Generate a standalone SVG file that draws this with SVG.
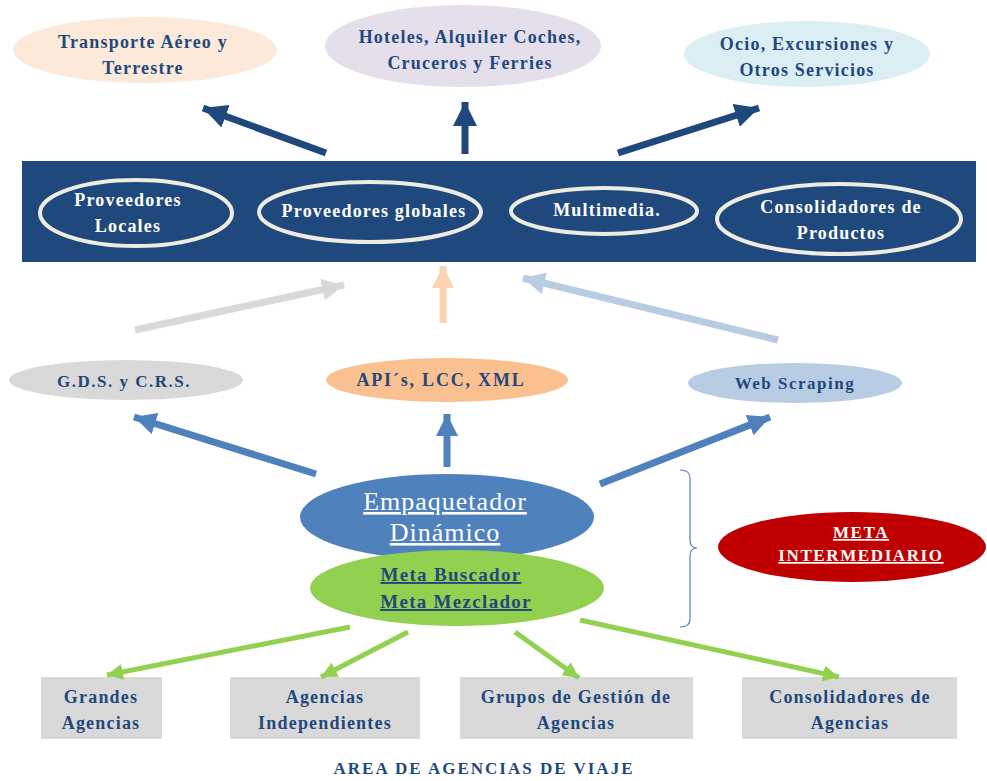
<svg xmlns="http://www.w3.org/2000/svg" width="987" height="781" viewBox="0 0 987 781">
  <style>
    text { font-family: "Liberation Serif", "Times New Roman", Tinos, "DejaVu Serif", serif; text-anchor: middle; }
    .dk { fill: #1f497d; font-weight: bold; font-size: 18px; letter-spacing: 1.2px; }
    .wh { fill: #ffffff; font-size: 18px; font-weight: bold; letter-spacing: 1.2px; }
    .inner { fill: none; stroke: #eeece1; stroke-width: 4; }
    .box { fill: #d9d9d9; }
    .ul { text-decoration: underline; }
  </style>
  <defs>
    <marker id="hDark" viewBox="0 0 24 24" refX="24" refY="12" markerWidth="24" markerHeight="24" markerUnits="userSpaceOnUse" orient="auto">
      <path d="M0,0 L24,12 L0,24 Z" fill="#1f497d"/>
    </marker>
    <marker id="hGrey" viewBox="0 0 22 22" refX="22" refY="11" markerWidth="22" markerHeight="22" markerUnits="userSpaceOnUse" orient="auto">
      <path d="M0,0 L22,11 L0,22 Z" fill="#d9d9d9"/>
    </marker>
    <marker id="hPeach" viewBox="0 0 22 22" refX="22" refY="11" markerWidth="22" markerHeight="22" markerUnits="userSpaceOnUse" orient="auto">
      <path d="M0,0 L22,11 L0,22 Z" fill="#fbd4b4"/>
    </marker>
    <marker id="hSky" viewBox="0 0 22 22" refX="22" refY="11" markerWidth="22" markerHeight="22" markerUnits="userSpaceOnUse" orient="auto">
      <path d="M0,0 L22,11 L0,22 Z" fill="#b8cce4"/>
    </marker>
    <marker id="hBlue" viewBox="0 0 22 22" refX="22" refY="11" markerWidth="22" markerHeight="22" markerUnits="userSpaceOnUse" orient="auto">
      <path d="M0,0 L22,11 L0,22 Z" fill="#4f81bd"/>
    </marker>
    <marker id="hGreen" viewBox="0 0 16 16" refX="16" refY="8" markerWidth="16" markerHeight="16" markerUnits="userSpaceOnUse" orient="auto">
      <path d="M0,0 L16,8 L0,16 Z" fill="#92d050"/>
    </marker>
  </defs>

  <rect width="987" height="781" fill="#ffffff"/>

  <!-- service categories -->
  <g id="transporte">
    <ellipse cx="145" cy="50" rx="132" ry="33" fill="#fde9d9"/>
    <text class="dk" x="143" y="48">Transporte Aéreo y</text>
    <text class="dk" x="143" y="74">Terrestre</text>
  </g>
  <g id="hoteles">
    <ellipse cx="463" cy="46" rx="138" ry="41" fill="#e5dfec"/>
    <text class="dk" x="470" y="43">Hoteles, Alquiler  Coches,</text>
    <text class="dk" x="470" y="69">Cruceros y Ferries</text>
  </g>
  <g id="ocio">
    <ellipse cx="807" cy="54" rx="123" ry="33" fill="#dbeef3"/>
    <text class="dk" x="807" y="50">Ocio, Excursiones y</text>
    <text class="dk" x="807" y="76">Otros Servicios</text>
  </g>

  <!-- providers band -->
  <g id="proveedores">
    <rect x="22" y="161" width="954" height="101" fill="#1f497d"/>
    <ellipse class="inner" cx="136" cy="213" rx="96" ry="33"/>
    <text class="wh" x="128" y="206">Proveedores</text>
    <text class="wh" x="128" y="232">Locales</text>
    <ellipse class="inner" cx="370" cy="212" rx="111" ry="30"/>
    <text class="wh" x="374" y="217">Proveedores globales</text>
    <ellipse class="inner" cx="604" cy="211" rx="93" ry="23"/>
    <text class="wh" x="607" y="216">Multimedia.</text>
    <ellipse class="inner" cx="839" cy="219" rx="122" ry="35"/>
    <text class="wh" x="841" y="213">Consolidadores de</text>
    <text class="wh" x="841" y="239">Productos</text>
  </g>

  <!-- access channels -->
  <g id="gds">
    <ellipse cx="126" cy="380" rx="117" ry="20" fill="#d9d9d9"/>
    <text class="dk" x="124" y="387" style="font-size:17px;letter-spacing:1.5px">G.D.S. y C.R.S.</text>
  </g>
  <g id="api">
    <ellipse cx="447" cy="380" rx="121" ry="22" fill="#fac090"/>
    <text class="dk" x="441" y="386" style="font-size:18px;letter-spacing:1.8px">API´s, LCC,  XML</text>
  </g>
  <g id="scraping">
    <ellipse cx="795" cy="383" rx="107" ry="20" fill="#b8cce4"/>
    <text class="dk" x="795" y="389" style="font-size:17px;letter-spacing:1.5px">Web Scraping</text>
  </g>

  <!-- intermediaries -->
  <g id="empaquetador">
    <ellipse cx="447" cy="517" rx="147" ry="43" fill="#4f81bd"/>
    <text class="ul" x="445" y="510" fill="#ffffff" style="font-size:26px;letter-spacing:1px">Empaquetador</text>
    <text class="ul" x="445" y="541" fill="#ffffff" style="font-size:26px;letter-spacing:1px">Dinámico</text>
  </g>
  <g id="metabuscador">
    <ellipse cx="457" cy="588" rx="147" ry="38" fill="#92d050"/>
    <text class="ul" x="451" y="581" fill="#1f497d" style="font-size:19px;font-weight:bold;letter-spacing:1.3px">Meta Buscador</text>
    <text class="ul" x="456" y="608" fill="#1f497d" style="font-size:19px;font-weight:bold;letter-spacing:1.3px">Meta Mezclador</text>
  </g>
  <g id="meta-intermediario">
    <ellipse cx="852" cy="547" rx="134" ry="35" fill="#c00000"/>
    <text class="ul" x="861" y="538" fill="#ffffff" style="font-size:17px;font-weight:bold;letter-spacing:1.6px">META</text>
    <text class="ul" x="861" y="561" fill="#ffffff" style="font-size:17px;font-weight:bold;letter-spacing:1.6px">INTERMEDIARIO</text>
  </g>
  <path id="llave" d="M680,470 Q690,470 690,478 L690,540 Q690,548 697,548 Q690,548 690,556 L690,619 Q690,627 680,627" fill="none" stroke="#4f81bd" stroke-width="1.2"/>

  <!-- travel agencies -->
  <g id="grandes">
    <rect class="box" x="41" y="677" width="121" height="62"/>
    <text class="dk" x="101" y="703">Grandes</text>
    <text class="dk" x="101" y="729">Agencias</text>
  </g>
  <g id="independientes">
    <rect class="box" x="230" y="677" width="190" height="62"/>
    <text class="dk" x="325" y="703">Agencias</text>
    <text class="dk" x="325" y="729">Independientes</text>
  </g>
  <g id="grupos">
    <rect class="box" x="460" y="677" width="233" height="62"/>
    <text class="dk" x="576" y="703">Grupos de Gestión de</text>
    <text class="dk" x="576" y="729">Agencias</text>
  </g>
  <g id="consolidadores-agencias">
    <rect class="box" x="742" y="677" width="215" height="62"/>
    <text class="dk" x="850" y="703">Consolidadores de</text>
    <text class="dk" x="850" y="729">Agencias</text>
  </g>
  <text x="484" y="774" fill="#1f497d" style="font-size:17px;font-weight:bold;letter-spacing:2px">AREA DE AGENCIAS DE VIAJE</text>

  <!-- connectors -->
  <g id="conectores" fill="none">
    <line x1="326" y1="153" x2="203" y2="108" stroke="#1f497d" stroke-width="7" marker-end="url(#hDark)"/>
    <line x1="465" y1="154" x2="465" y2="102" stroke="#1f497d" stroke-width="7" marker-end="url(#hDark)"/>
    <line x1="618" y1="153" x2="759" y2="108" stroke="#1f497d" stroke-width="7" marker-end="url(#hDark)"/>

    <line x1="135" y1="330" x2="344" y2="285" stroke="#d9d9d9" stroke-width="7" marker-end="url(#hGrey)"/>
    <line x1="443" y1="323" x2="443" y2="266" stroke="#fbd4b4" stroke-width="7" marker-end="url(#hPeach)"/>
    <line x1="778" y1="340" x2="523" y2="278" stroke="#b8cce4" stroke-width="7" marker-end="url(#hSky)"/>

    <line x1="316" y1="474" x2="134" y2="417" stroke="#4f81bd" stroke-width="7" marker-end="url(#hBlue)"/>
    <line x1="447" y1="467" x2="447" y2="414" stroke="#4f81bd" stroke-width="7" marker-end="url(#hBlue)"/>
    <line x1="600" y1="484" x2="770" y2="417" stroke="#4f81bd" stroke-width="7" marker-end="url(#hBlue)"/>

    <line x1="350" y1="627" x2="107" y2="675" stroke="#92d050" stroke-width="5" marker-end="url(#hGreen)"/>
    <line x1="408" y1="632" x2="321" y2="677" stroke="#92d050" stroke-width="5" marker-end="url(#hGreen)"/>
    <line x1="515" y1="632" x2="579" y2="678" stroke="#92d050" stroke-width="5" marker-end="url(#hGreen)"/>
    <line x1="580" y1="620" x2="839" y2="677" stroke="#92d050" stroke-width="5" marker-end="url(#hGreen)"/>
  </g>
</svg>
